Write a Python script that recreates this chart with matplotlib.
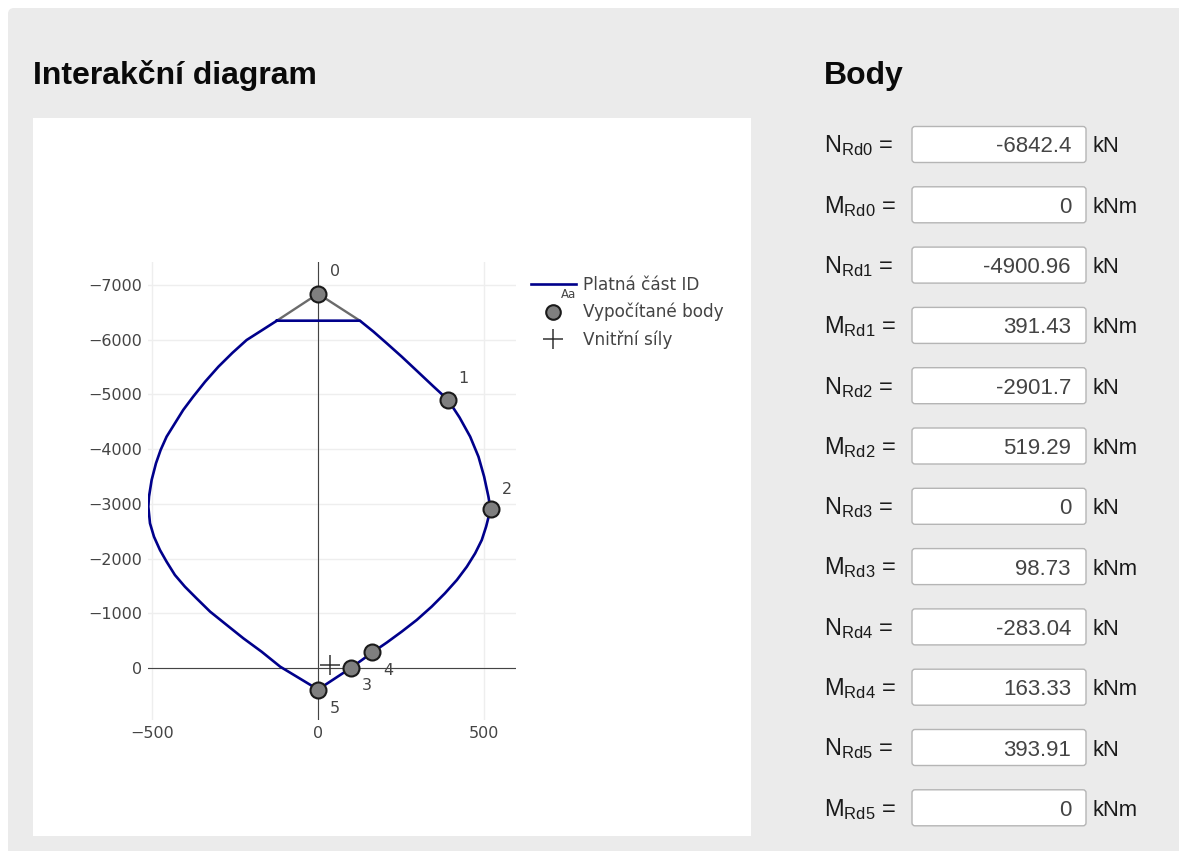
import matplotlib
matplotlib.use("Agg")
import matplotlib.pyplot as plt
from matplotlib.patches import Rectangle, FancyBboxPatch
from matplotlib.lines import Line2D

# ---------------- data ----------------
N_rd = [-6842.4, -4900.96, -2901.7, 0, -283.04, 393.91]     # kN
M_rd = [0, 391.43, 519.29, 98.73, 163.33, 0]                # kNm
point_labels = ["0", "1", "2", "3", "4", "5"]

# valid part of the interaction diagram
curve_M = [-124, 126, 167, 207, 252, 297, 346, 391.43, 426, 458, 483, 500,
           513, 519.29, 506, 493, 473, 448, 418, 382, 342, 297, 252, 207,
           163.33, 98.73, 0, -114, -170, -225, -275, -325, -366, -401,
           -431, -456, -476, -494, -506, -511, -509, -501, -488, -474, -456,
           -431, -406, -376, -340, -300, -258, -215, -170, -124]
curve_N = [-6349, -6349, -6148, -5935, -5691, -5435, -5155, -4900.96, -4580,
           -4229, -3863, -3498, -3132, -2901.7, -2584, -2340, -2096, -1852,
           -1609, -1365, -1121, -877, -665, -465, -283.04, 0, 393.91,
           -24, -298, -543, -786, -1030, -1274, -1487, -1700, -1943, -2157,
           -2400, -2645, -2949, -3132, -3437, -3742, -3985, -4229, -4473,
           -4717, -4960, -5234, -5508, -5760, -5996, -6170, -6349]
# cut-off of the top
cut_M = [-124, 0, 126]
cut_N = [-6349, -6842.4, -6349]
# internal forces
force_M = [35]
force_N = [-50]

x_ticks = [-500, 0, 500]
y_ticks = [-7000, -6000, -5000, -4000, -3000, -2000, -1000, 0]

legend_labels = ["Platná část ID", "Vypočítané body", "Vnitřní síly"]

W, H = 1179, 851
fig = plt.figure(figsize=(W / 100, H / 100), dpi=100)
fig.patch.set_facecolor("white")

# ---------------- background / panel (pixel coordinates) ----------------
bg = fig.add_axes([0, 0, 1, 1], zorder=0)
bg.set_xlim(0, W)
bg.set_ylim(H, 0)
bg.axis("off")
bg.add_patch(FancyBboxPatch((8, 8), W - 8 + 20, H - 8 + 20,
                            boxstyle="round,pad=0,rounding_size=6",
                            fc="#ebebeb", ec="none"))
bg.add_patch(Rectangle((33, 118), 751 - 33, 836 - 118, fc="white", ec="none"))

bg.text(33, 84, "Interakční diagram", fontsize=23, fontweight="bold",
        family="Liberation Sans", color="#0a0a0a", va="baseline", ha="left")
bg.text(824, 84, "Body", fontsize=23, fontweight="bold",
        family="Liberation Sans", color="#0a0a0a", va="baseline", ha="left")

plt.rcParams["mathtext.fontset"] = "custom"
plt.rcParams["mathtext.rm"] = "Liberation Sans"

row0 = 144.5
dy = 60.3
rows = []
for i in range(len(N_rd)):
    rows.append(("N", i, N_rd[i], "kN"))
    rows.append(("M", i, M_rd[i], "kNm"))
for r, (sym, i, val, unit) in enumerate(rows):
    yc = row0 + r * dy
    bg.text(824, yc + 8, r"$\mathregular{%s_{Rd%d}}$ =" % (sym, i),
            fontsize=17, family="Liberation Sans", color="#1a1a1a",
            va="baseline", ha="left")
    bg.add_patch(FancyBboxPatch((912, yc - 18), 174, 36,
                                boxstyle="round,pad=0,rounding_size=3",
                                fc="white", ec="#b5b5b5", lw=1))
    bg.text(1071, yc + 8, f"{val:g}", fontsize=16, family="Liberation Sans",
            color="#444444", va="baseline", ha="right")
    bg.text(1092, yc + 8, unit, fontsize=15.8, family="Liberation Sans",
            color="#1a1a1a", va="baseline", ha="left")

# ---------------- plot ----------------
px_l, px_r, px_t, px_b = 148, 516, 262, 720
ax = fig.add_axes([px_l / W, 1 - px_b / H, (px_r - px_l) / W, (px_b - px_t) / H],
                  zorder=1)
ax.set_facecolor("none")
ax.set_xlim(-512, 596)
ax.set_ylim(951, -7422)
for s in ax.spines.values():
    s.set_visible(False)
ax.set_xticks(x_ticks)
ax.set_yticks(y_ticks)
ax.set_xticklabels([f"{v}".replace("-", "\u2212") for v in x_ticks])
ax.set_yticklabels([f"{v}".replace("-", "\u2212") for v in y_ticks])
ax.tick_params(length=0, labelsize=11.5, labelcolor="#444444", pad=4)
for lab in ax.get_xticklabels() + ax.get_yticklabels():
    lab.set_family("DejaVu Sans")
ax.grid(True, color="#eeeeee", lw=1)
ax.set_axisbelow(True)
ax.axhline(0, color="#444444", lw=0.8, zorder=1.5)
ax.axvline(0, color="#444444", lw=0.8, zorder=1.5)

ax.plot(cut_M, cut_N, color="#6b6b6b", lw=1.7, zorder=2)
line, = ax.plot(curve_M, curve_N, color="#00008b", lw=1.9, zorder=3,
                solid_joinstyle="round")
pts, = ax.plot(M_rd, N_rd, "o", ms=11.5, mfc="#7f7f7f", mec="#1a1a1a",
               mew=1.5, zorder=4, linestyle="none")
plus, = ax.plot(force_M, force_N, "+", ms=15, color="#333333", mew=1.1,
                zorder=5, linestyle="none")

offsets = [(17, 22), (15, 21), (16, 20), (16, -18), (16, -18), (17, -19)]
for m, n, t, off in zip(M_rd, N_rd, point_labels, offsets):
    ax.annotate(t, (m, n), xytext=off, textcoords="offset pixels",
                ha="center", va="center", fontsize=11.5, color="#444444",
                family="DejaVu Sans")

# legend
h_line = Line2D([], [], color="#00008b", lw=1.9)
h_pts = Line2D([], [], marker="o", ms=10.5, mfc="#7f7f7f", mec="#1a1a1a",
               mew=1.5, linestyle="none")
h_plus = Line2D([], [], marker="+", ms=14, color="#333333", mew=1.1,
                linestyle="none")
leg = fig.legend([h_line, h_pts, h_plus], legend_labels, loc="upper left",
                 bbox_to_anchor=(531 / W, 1 - 276 / H), frameon=False,
                 prop={"family": "DejaVu Sans", "size": 12.2},
                 labelcolor="#444444", handlelength=2.65, handletextpad=0.41,
                 labelspacing=0.53, borderaxespad=0, borderpad=0)
bg.text(569, 295, "Aa", fontsize=8.5, color="#444444", family="DejaVu Sans",
        ha="center", va="center", zorder=6)

fig.savefig("out.png", dpi=100)
